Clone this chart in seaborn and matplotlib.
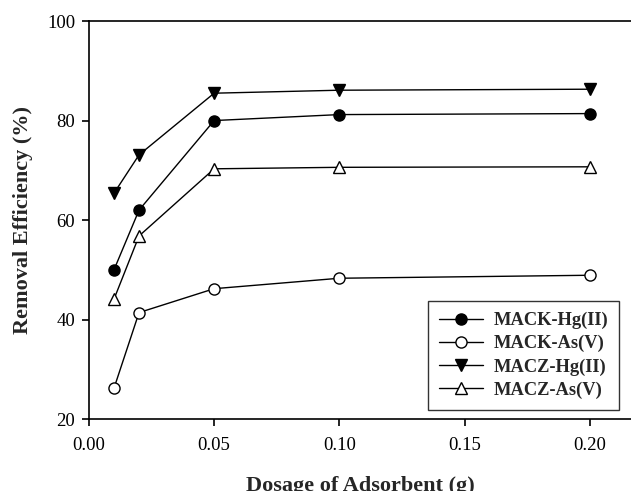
import matplotlib
matplotlib.use("Agg")
import matplotlib.pyplot as plt
import seaborn as sns
import pandas as pd

dosage = [0.01, 0.02, 0.05, 0.10, 0.20]
mack_hg = [50.0, 62.0, 80.0, 81.2, 81.4]
mack_as = [26.2, 41.4, 46.2, 48.3, 48.9]
macz_hg = [65.4, 73.1, 85.5, 86.1, 86.3]
macz_as = [44.1, 56.8, 70.3, 70.6, 70.7]
series_names = ["MACK-Hg(II)", "MACK-As(V)", "MACZ-Hg(II)", "MACZ-As(V)"]
x_ticks = [0.00, 0.05, 0.10, 0.15, 0.20]
y_ticks = [20, 40, 60, 80, 100]

sns.set_style("ticks")
plt.rcParams["font.family"] = ["Liberation Serif", "DejaVu Serif"]

fig = plt.figure(figsize=(6.31, 4.91), dpi=100)
ax = fig.add_axes([0.141, 0.1466, 0.859, 0.8105])

styles = [("o", "black"), ("o", "white"), ("v", "black"), ("^", "white")]
for name, vals, (mk, fc) in zip(series_names,
                                [mack_hg, mack_as, macz_hg, macz_as], styles):
    df = pd.DataFrame({"Dosage": dosage, "Removal": vals})
    sns.lineplot(data=df, x="Dosage", y="Removal", ax=ax, color="black",
                 linewidth=1.0, marker=mk, markersize=8,
                 markerfacecolor=fc, markeredgecolor="black",
                 markeredgewidth=1.0, label=name, clip_on=False, zorder=3)

ax.set_xlim(0, 0.2165)
ax.set_ylim(20, 100)
ax.set_xticks(x_ticks)
ax.set_xticklabels([f"{t:.2f}" for t in x_ticks])
ax.set_yticks(y_ticks)
ax.tick_params(axis="both", direction="out", length=5, width=1.2,
               labelsize=13.5, colors="black")
ax.tick_params(axis="x", pad=8)
ax.tick_params(axis="y", pad=5)
for side in ["left", "bottom", "top"]:
    ax.spines[side].set_linewidth(1.2)
    ax.spines[side].set_color("black")
ax.spines["right"].set_visible(False)

ax.set_xlabel("Dosage of Adsorbent (g)", fontsize=16, fontweight="bold",
              labelpad=16)
ax.set_ylabel("Removal Efficiency (%)", fontsize=16, fontweight="bold",
              labelpad=10)

leg = ax.legend(loc="lower right", bbox_to_anchor=(0.978, 0.023),
                borderaxespad=0,
                prop={"weight": "bold", "size": 13.3}, frameon=True,
                fancybox=False, edgecolor="black", handlelength=2.4,
                handletextpad=0.55, borderpad=0.6, labelspacing=0.32)
leg.get_frame().set_linewidth(1.0)

fig.savefig("out.png", dpi=100)
